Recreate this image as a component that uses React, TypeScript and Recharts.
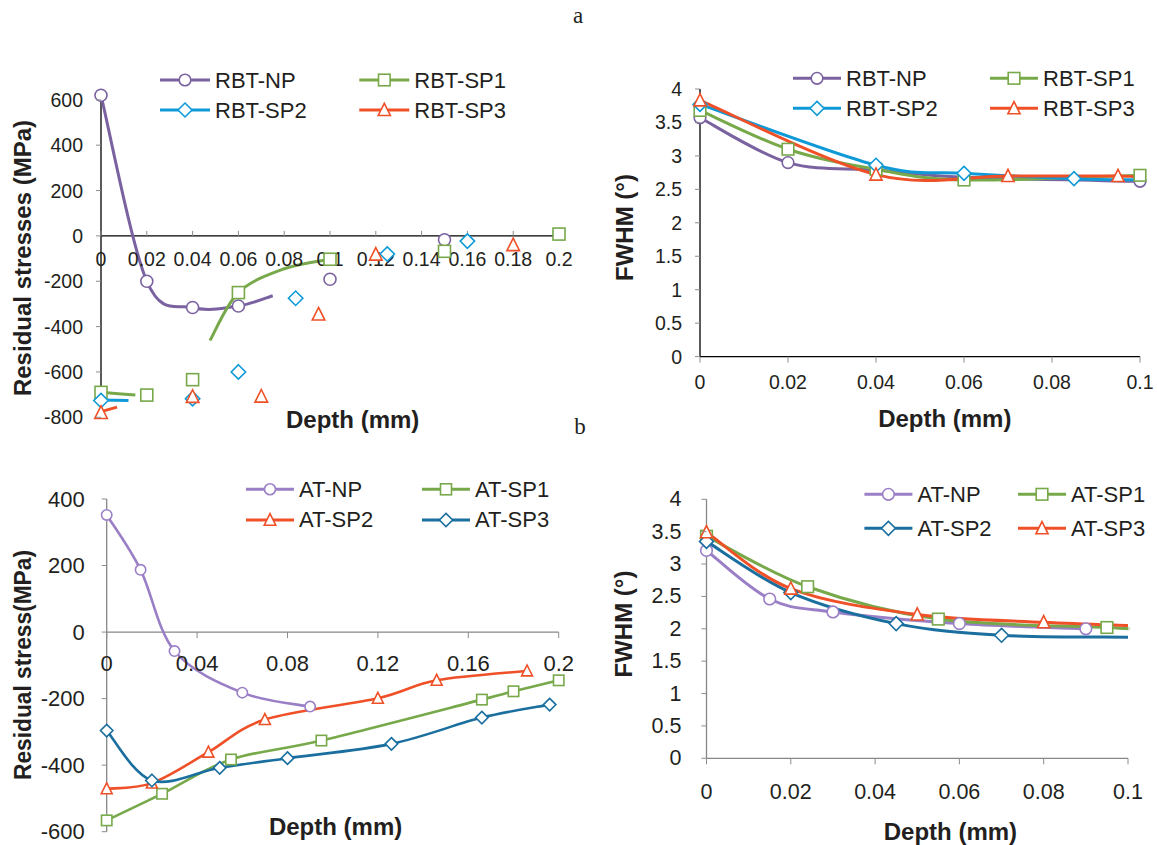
import React from 'react';
import { ComposedChart, Line, Scatter, XAxis, YAxis, ReferenceLine, ReferenceDot } from 'recharts';

type Pt = { x: number; y: number; noMark?: boolean };
type Shape = 'circle' | 'square' | 'diamond' | 'triangle';

// (a) left: residual stress of the RBT samples (depth mm, MPa)
const rbtStressNP: Pt[] = [
  { x: 0, y: 620 }, { x: 0.02, y: -200 }, { x: 0.04, y: -316 }, { x: 0.06, y: -309 },
  { x: 0.1, y: -191 }, { x: 0.15, y: -17 },
];
const rbtStressSP1: Pt[] = [
  { x: 0, y: -690 }, { x: 0.02, y: -702 }, { x: 0.04, y: -634 }, { x: 0.06, y: -250 },
  { x: 0.1, y: -103 }, { x: 0.15, y: -68 }, { x: 0.2, y: 8 },
];
const rbtStressSP2: Pt[] = [
  { x: 0, y: -726 }, { x: 0.04, y: -718 }, { x: 0.06, y: -600 }, { x: 0.085, y: -275 },
  { x: 0.125, y: -80 }, { x: 0.16, y: -23 },
];
const rbtStressSP3: Pt[] = [
  { x: 0, y: -780 }, { x: 0.04, y: -709 }, { x: 0.07, y: -708 }, { x: 0.095, y: -346 },
  { x: 0.12, y: -82 }, { x: 0.18, y: -40 },
];
// the smoothed lines in (a) only cover part of each series
const rbtStressNPCurve: Pt[] = [
  { x: 0, y: 620 }, { x: 0.02, y: -200 }, { x: 0.04, y: -316 }, { x: 0.06, y: -309 }, { x: 0.075, y: -264 },
];
const rbtStressSP1Curve: Pt[] = [
  { x: 0.0476, y: -461 }, { x: 0.06, y: -250 }, { x: 0.08, y: -145 }, { x: 0.1, y: -103 },
];
const rbtStressSP1Tail: Pt[] = [{ x: 0, y: -690 }, { x: 0.015, y: -702 }];
const rbtStressSP2Tail: Pt[] = [{ x: 0, y: -724 }, { x: 0.012, y: -726 }];
const rbtStressSP3Tail: Pt[] = [{ x: 0, y: -775 }, { x: 0.007, y: -755 }];

// (a) right: FWHM of the RBT samples (degrees)
const rbtFwhmNP: Pt[] = [
  { x: 0, y: 3.57 }, { x: 0.02, y: 2.9 }, { x: 0.04, y: 2.79 }, { x: 0.06, y: 2.68 }, { x: 0.1, y: 2.62 },
];
const rbtFwhmSP1: Pt[] = [
  { x: 0, y: 3.68 }, { x: 0.02, y: 3.1 }, { x: 0.04, y: 2.8 }, { x: 0.06, y: 2.64 }, { x: 0.1, y: 2.71 },
];
const rbtFwhmSP2: Pt[] = [
  { x: 0, y: 3.77 }, { x: 0.04, y: 2.86 }, { x: 0.06, y: 2.74 }, { x: 0.085, y: 2.66 },
  { x: 0.1, y: 2.64, noMark: true },
];
const rbtFwhmSP3: Pt[] = [
  { x: 0, y: 3.83 }, { x: 0.04, y: 2.72 }, { x: 0.07, y: 2.7 }, { x: 0.095, y: 2.7 },
  { x: 0.1, y: 2.68, noMark: true },
];

// (b) left: residual stress of the AT samples
const atStressNP: Pt[] = [
  { x: 0, y: 352 }, { x: 0.015, y: 187 }, { x: 0.03, y: -57 }, { x: 0.06, y: -182 }, { x: 0.09, y: -224 },
];
const atStressSP1: Pt[] = [
  { x: 0, y: -566 }, { x: 0.0245, y: -486 }, { x: 0.055, y: -383 }, { x: 0.095, y: -326 },
  { x: 0.166, y: -203 }, { x: 0.18, y: -178 }, { x: 0.2, y: -145 },
];
const atStressSP2: Pt[] = [
  { x: 0, y: -471 }, { x: 0.02, y: -454 }, { x: 0.045, y: -361 }, { x: 0.07, y: -263 },
  { x: 0.12, y: -199 }, { x: 0.146, y: -145 }, { x: 0.186, y: -117 },
];
const atStressSP3: Pt[] = [
  { x: 0, y: -296 }, { x: 0.02, y: -446 }, { x: 0.05, y: -408 }, { x: 0.08, y: -379 },
  { x: 0.126, y: -336 }, { x: 0.166, y: -257 }, { x: 0.196, y: -218 },
];

// (b) right: FWHM of the AT samples
const atFwhmNP: Pt[] = [
  { x: 0, y: 3.21 }, { x: 0.015, y: 2.46 }, { x: 0.03, y: 2.26 }, { x: 0.06, y: 2.08 }, { x: 0.09, y: 2.0 },
];
const atFwhmSP1: Pt[] = [
  { x: 0, y: 3.43 }, { x: 0.024, y: 2.65 }, { x: 0.055, y: 2.15 }, { x: 0.095, y: 2.02 },
  { x: 0.1, y: 2.0, noMark: true },
];
const atFwhmSP2: Pt[] = [
  { x: 0, y: 3.35 }, { x: 0.02, y: 2.56 }, { x: 0.045, y: 2.08 }, { x: 0.07, y: 1.9 },
  { x: 0.1, y: 1.87, noMark: true },
];
const atFwhmSP3: Pt[] = [
  { x: 0, y: 3.49 }, { x: 0.02, y: 2.62 }, { x: 0.05, y: 2.22 }, { x: 0.08, y: 2.1 },
  { x: 0.1, y: 2.05, noMark: true },
];

const stressXTicksA = [0, 0.02, 0.04, 0.06, 0.08, 0.1, 0.12, 0.14, 0.16, 0.18, 0.2];
const stressXTicksB = [0, 0.04, 0.08, 0.12, 0.16, 0.2];
const fwhmXTicks = [0, 0.02, 0.04, 0.06, 0.08, 0.1];
const stressYTicksA = [-800, -600, -400, -200, 0, 200, 400, 600];
const stressYTicksB = [-600, -400, -200, 0, 200, 400];
const fwhmYTicks = [0, 0.5, 1, 1.5, 2, 2.5, 3, 3.5, 4];

const PURPLE = '#7a62a0';
const LILAC = '#9a7fc6';
const GREEN = '#77a94a';
const BLUE = '#0f9ad7';
const RED = '#ef5027';
const TEAL = '#1a6f9f';
const TEXT = '#231f20';
const GREY_AXIS = '#878787';
const TICK_GREY = '#8c8c8c';
const Y_AXIS_W = 70;

// Excel style smoothed line: Catmull-Rom through the pixel points
function excelSmooth(context: any) {
  let pts: number[][] = [];
  return {
    areaStart() {},
    areaEnd() {},
    lineStart() { pts = []; },
    point(x: number, y: number) { pts.push([+x, +y]); },
    lineEnd() {
      const n = pts.length;
      if (!n) return;
      context.moveTo(pts[0][0], pts[0][1]);
      for (let i = 0; i < n - 1; i++) {
        const p0 = pts[Math.max(i - 1, 0)];
        const p1 = pts[i];
        const p2 = pts[i + 1];
        const p3 = pts[Math.min(i + 2, n - 1)];
        context.bezierCurveTo(
          p1[0] + (p2[0] - p0[0]) / 6, p1[1] + (p2[1] - p0[1]) / 6,
          p2[0] - (p3[0] - p1[0]) / 6, p2[1] - (p3[1] - p1[1]) / 6,
          p2[0], p2[1],
        );
      }
    },
  };
}

function Marker({ cx, cy, shape, color, size }: { cx: number; cy: number; shape: Shape; color: string; size: number }) {
  if (cx == null || cy == null) return null;
  const common = { fill: '#fff', stroke: color, strokeWidth: 1.6 };
  if (shape === 'circle') return <circle cx={cx} cy={cy} r={size} {...common} />;
  if (shape === 'square') return <rect x={cx - size} y={cy - size} width={size * 2} height={size * 2} {...common} />;
  if (shape === 'diamond') {
    const d = size * 1.2;
    return <polygon points={`${cx},${cy - d} ${cx + d},${cy} ${cx},${cy + d} ${cx - d},${cy}`} {...common} />;
  }
  const h = size * 1.05;
  return <polygon points={`${cx},${cy - h * 1.1} ${cx + h},${cy + h * 0.9} ${cx - h},${cy + h * 0.9}`} {...common} />;
}

interface Series { name: string; color: string; shape: Shape; points: Pt[]; curves: Pt[][] }

interface PanelProps {
  left: number; top: number; width: number; height: number;
  plot: { left: number; top: number; right: number; bottom: number }; // plot box inside the chart
  xDomain: [number, number]; xTicks: number[];
  yDomain: [number, number]; yTicks: number[];
  series: Series[];
  axisColor: string;
  fontSize: number;
  yTickGap: number;
  xTickGap: number;
  zeroAxis?: 'up' | 'down';
  markerSize: number;
  lineWidth: number;
}

function Panel(p: PanelProps) {
  const xTickLen = p.zeroAxis === 'up' ? -5 : 6;
  const margin = {
    top: p.plot.top,
    right: p.width - p.plot.right,
    bottom: p.height - p.plot.bottom - (p.zeroAxis ? 0 : 30),
    left: p.plot.left - Y_AXIS_W,
  };
  const yTick = (t: any) => (
    <g>
      <line x1={t.x} x2={t.x - 5} y1={t.y} y2={t.y} stroke={TICK_GREY} />
      <text x={t.x - p.yTickGap} y={t.y} textAnchor="end" dominantBaseline="central"
        fontSize={p.fontSize} fill={TEXT}>{t.payload.value}</text>
    </g>
  );
  const xTick = (t: any) => (
    <g>
      <line x1={t.x} x2={t.x} y1={t.y} y2={t.y + 6} stroke={TICK_GREY} />
      <text x={t.x} y={t.y + p.xTickGap} textAnchor="middle" dominantBaseline="central"
        fontSize={p.fontSize} fill={TEXT}>{t.payload.value}</text>
    </g>
  );
  return (
    <div style={{ position: 'absolute', left: p.left, top: p.top }}>
      <ComposedChart width={p.width} height={p.height} margin={margin}>
        <XAxis
          type="number" dataKey="x" domain={() => p.xDomain} ticks={p.xTicks} interval={0}
          hide={!!p.zeroAxis} height={30} axisLine={false} tickLine={false}
          tickSize={0} tickMargin={0} tick={xTick}
        />
        <YAxis
          type="number" domain={() => p.yDomain} ticks={p.yTicks} interval={0} width={Y_AXIS_W}
          axisLine={false} tickLine={false} tickSize={0} tickMargin={0} tick={yTick}
        />
        <ReferenceLine x={p.xDomain[0]} stroke={p.axisColor} strokeWidth={1.3} />
        <ReferenceLine y={0} stroke={p.axisColor} strokeWidth={1.3} />
        {p.zeroAxis && p.xTicks.map((t) => (
          <ReferenceDot
            key={`tick-${t}`} x={t} y={0} r={0}
            shape={(d: any) => (
              <g>
                <line x1={d.cx} x2={d.cx} y1={d.cy} y2={d.cy + xTickLen} stroke={TICK_GREY} />
                <text x={d.cx} y={d.cy + p.xTickGap} textAnchor="middle" dominantBaseline="central"
                  fontSize={p.fontSize} fill={TEXT}>{t}</text>
              </g>
            )}
          />
        ))}
        {p.series.flatMap((s) => s.curves.map((c, i) => (
          <Line
            key={`${s.name}-curve-${i}`} data={c} dataKey="y" type={excelSmooth as any}
            stroke={s.color} strokeWidth={p.lineWidth} dot={false} activeDot={false}
            isAnimationActive={false} legendType="none"
          />
        )))}
        {p.series.map((s) => (
          <Scatter
            key={`${s.name}-marks`} data={s.points.filter((d) => !d.noMark)} dataKey="y"
            isAnimationActive={false}
            shape={(d: any) => <Marker cx={d.cx} cy={d.cy} shape={s.shape} color={s.color} size={p.markerSize} />}
          />
        ))}
      </ComposedChart>
    </div>
  );
}

function LegendBlock({ x, y, items, colGap, rowGap, lineLen, size }:
  { x: number; y: number; items: Series[]; colGap: number; rowGap: number; lineLen: number; size: number }) {
  return (
    <g transform={`translate(${x},${y})`}>
      {items.map((it, i) => {
        const lx = (i % 2) * colGap;
        const ly = Math.floor(i / 2) * rowGap;
        return (
          <g key={it.name}>
            <line x1={lx} x2={lx + lineLen} y1={ly} y2={ly} stroke={it.color} strokeWidth={3} />
            <Marker cx={lx + lineLen / 2} cy={ly} shape={it.shape} color={it.color} size={size} />
            <text x={lx + lineLen + 5} y={ly} dominantBaseline="central" fontSize={22} fill={TEXT}>{it.name}</text>
          </g>
        );
      })}
    </g>
  );
}

const rbtStress: Series[] = [
  { name: 'RBT-NP', color: PURPLE, shape: 'circle', points: rbtStressNP, curves: [rbtStressNPCurve] },
  { name: 'RBT-SP1', color: GREEN, shape: 'square', points: rbtStressSP1, curves: [rbtStressSP1Curve, rbtStressSP1Tail] },
  { name: 'RBT-SP2', color: BLUE, shape: 'diamond', points: rbtStressSP2, curves: [rbtStressSP2Tail] },
  { name: 'RBT-SP3', color: RED, shape: 'triangle', points: rbtStressSP3, curves: [rbtStressSP3Tail] },
];
const rbtFwhm: Series[] = [
  { name: 'RBT-NP', color: PURPLE, shape: 'circle', points: rbtFwhmNP, curves: [rbtFwhmNP] },
  { name: 'RBT-SP1', color: GREEN, shape: 'square', points: rbtFwhmSP1, curves: [rbtFwhmSP1] },
  { name: 'RBT-SP2', color: BLUE, shape: 'diamond', points: rbtFwhmSP2, curves: [rbtFwhmSP2] },
  { name: 'RBT-SP3', color: RED, shape: 'triangle', points: rbtFwhmSP3, curves: [rbtFwhmSP3] },
];
const atStress: Series[] = [
  { name: 'AT-NP', color: LILAC, shape: 'circle', points: atStressNP, curves: [atStressNP] },
  { name: 'AT-SP1', color: GREEN, shape: 'square', points: atStressSP1, curves: [atStressSP1] },
  { name: 'AT-SP2', color: RED, shape: 'triangle', points: atStressSP2, curves: [atStressSP2] },
  { name: 'AT-SP3', color: TEAL, shape: 'diamond', points: atStressSP3, curves: [atStressSP3] },
];
const atFwhm: Series[] = [
  { name: 'AT-NP', color: LILAC, shape: 'circle', points: atFwhmNP, curves: [atFwhmNP] },
  { name: 'AT-SP1', color: GREEN, shape: 'square', points: atFwhmSP1, curves: [atFwhmSP1] },
  { name: 'AT-SP2', color: TEAL, shape: 'diamond', points: atFwhmSP2, curves: [atFwhmSP2] },
  { name: 'AT-SP3', color: RED, shape: 'triangle', points: atFwhmSP3, curves: [atFwhmSP3] },
];

const titleStyle = { fontSize: 24, fontWeight: 700, fill: TEXT } as const;

export default function App() {
  return (
    <div style={{
      position: 'absolute', left: 0, top: 0, width: 1157, height: 845, background: '#fff',
      fontFamily: '"Liberation Sans", Arial, sans-serif', overflow: 'hidden',
    }}>
      <Panel
        left={0} top={40} width={580} height={400}
        plot={{ left: 101, top: 55.3, right: 559, bottom: 377.3 }}
        xDomain={[0, 0.2]} xTicks={stressXTicksA} yDomain={[-800, 600]} yTicks={stressYTicksA}
        series={rbtStress} axisColor="#000" fontSize={19.5} yTickGap={18} xTickGap={23.4}
        zeroAxis="up" markerSize={6} lineWidth={3}
      />
      <Panel
        left={580} top={40} width={577} height={400}
        plot={{ left: 120, top: 49, right: 560, bottom: 316.6 }}
        xDomain={[0, 0.1]} xTicks={fwhmXTicks} yDomain={[0, 4]} yTicks={fwhmYTicks}
        series={rbtFwhm} axisColor="#000" fontSize={19.5} yTickGap={18} xTickGap={25.1}
        markerSize={5.8} lineWidth={3}
      />
      <Panel
        left={0} top={440} width={580} height={405}
        plot={{ left: 106.7, top: 59, right: 558.7, bottom: 391.7 }}
        xDomain={[0, 0.2]} xTicks={stressXTicksB} yDomain={[-600, 400]} yTicks={stressYTicksB}
        series={atStress} axisColor={GREY_AXIS} fontSize={22} yTickGap={22} xTickGap={31.6}
        zeroAxis="down" markerSize={5.2} lineWidth={2.6}
      />
      <Panel
        left={580} top={440} width={577} height={405}
        plot={{ left: 126.5, top: 59.3, right: 548, bottom: 318.3 }}
        xDomain={[0, 0.1]} xTicks={fwhmXTicks} yDomain={[0, 4]} yTicks={fwhmYTicks}
        series={atFwhm} axisColor={GREY_AXIS} fontSize={21.5} yTickGap={25} xTickGap={33.4}
        markerSize={5.8} lineWidth={3}
      />
      <svg width={1157} height={845} style={{ position: 'absolute', left: 0, top: 0, pointerEvents: 'none' }}>
        <text x={578} y={15} textAnchor="middle" dominantBaseline="central" fontSize={23}
          fontFamily='"Liberation Serif", "Times New Roman", serif' fill={TEXT}>a</text>
        <text x={580} y={426} textAnchor="middle" dominantBaseline="central" fontSize={23}
          fontFamily='"Liberation Serif", "Times New Roman", serif' fill={TEXT}>b</text>

        <text transform="translate(22,258) rotate(-90)" textAnchor="middle" dominantBaseline="central" {...titleStyle}>
          Residual stresses (MPa)
        </text>
        <text x={352.7} y={419} textAnchor="middle" dominantBaseline="central" {...titleStyle}>Depth (mm)</text>
        <text transform="translate(624.4,227.5) rotate(-90)" textAnchor="middle" dominantBaseline="central" {...titleStyle}>
          FWHM (°)
        </text>
        <text x={944.8} y={418.3} textAnchor="middle" dominantBaseline="central" {...titleStyle}>Depth (mm)</text>
        <text transform="translate(22.2,665) rotate(-90)" textAnchor="middle" dominantBaseline="central"
          textLength={230} lengthAdjust="spacingAndGlyphs" {...titleStyle}>
          Residual stress(MPa)
        </text>
        <text x={335.6} y={826} textAnchor="middle" dominantBaseline="central" {...titleStyle}>Depth (mm)</text>
        <text transform="translate(623.7,624) rotate(-90)" textAnchor="middle" dominantBaseline="central" {...titleStyle}>
          FWHM (°)
        </text>
        <text x={950.4} y={831} textAnchor="middle" dominantBaseline="central" {...titleStyle}>Depth (mm)</text>

        <LegendBlock x={160} y={80} items={rbtStress} colGap={199.3} rowGap={30} lineLen={50} size={5.8} />
        <LegendBlock x={793} y={78.3} items={rbtFwhm} colGap={197} rowGap={30} lineLen={48} size={5.8} />
        <LegendBlock x={246} y={489.3} items={atStress} colGap={176} rowGap={30.7} lineLen={48} size={5.5} />
        <LegendBlock x={864.4} y={494.3} items={atFwhm} colGap={153.6} rowGap={34} lineLen={48} size={5.8} />
      </svg>
    </div>
  );
}
